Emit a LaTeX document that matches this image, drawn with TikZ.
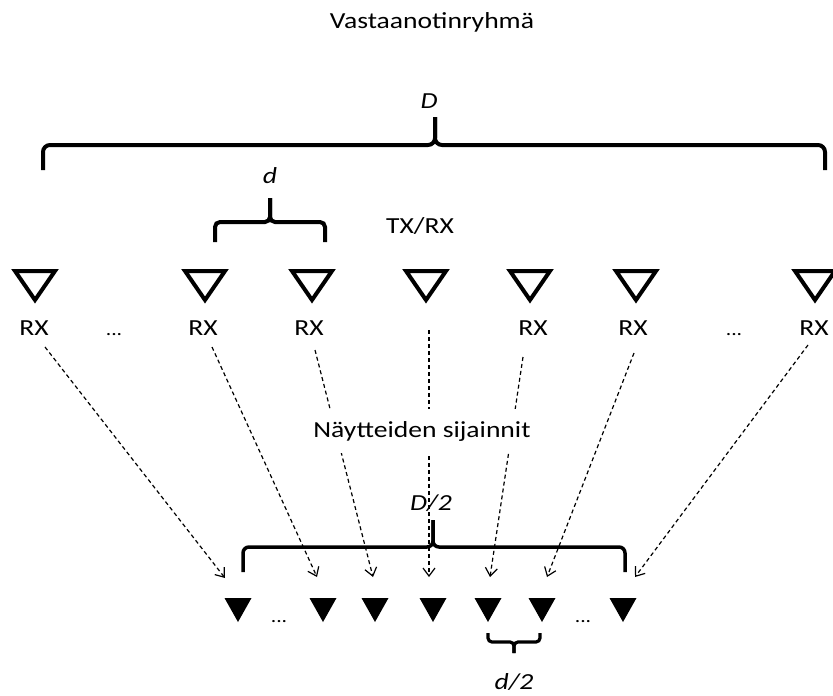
\documentclass[tikz,border=0pt]{standalone}
\usepackage{fontspec}
\setmainfont{Carlito}[FakeStretch=1.2]
\usetikzlibrary{arrows.meta}
\tikzset{
  lbl/.style={font=\fontsize{23}{27}\selectfont, inner sep=0pt, anchor=base},
  dotlbl/.style={font=\fontsize{18}{22}\selectfont, inner sep=0pt, anchor=base},
  mathlbl/.style={font=\fontsize{23}{27}\selectfont\itshape, inner sep=0pt, anchor=base},
  bigbrace/.style={line width=4pt, rounded corners=7pt, line cap=butt},
  smallbrace/.style={line width=3.2pt, rounded corners=4pt, line cap=butt},
  dasharrow/.style={line width=1.2pt, dash pattern=on 4pt off 3pt, -{Straight Barb[length=8pt,width=12pt,line width=1.2pt]}},
  rxant/.pic={\draw[line width=4pt, line join=miter] (-20,-13) -- (20,-13) -- (0,16) -- cycle;},
  sampmark/.pic={\fill (-13.5,-12) -- (13.5,-12) -- (0,12) -- cycle;}
}
\begin{document}
\begin{tikzpicture}[x=1pt,y=-1pt]
\useasboundingbox (0,0) rectangle (833,696);

% title
\node[lbl] (title) at (432,28) {Vastaanotinryhmä};

% big brace D
\draw[bigbrace] (43,170) -- (43,145) -- (435,145) -- (435,117);
\draw[bigbrace] (825,170) -- (825,145) -- (435,145) -- (435,117);
\node[mathlbl] (Dlab) at (429,108) {D};

% small brace d
\draw[bigbrace, rounded corners=5pt] (215,242) -- (215,222) -- (270,222) -- (270,198);
\draw[bigbrace, rounded corners=5pt] (325,242) -- (325,222) -- (270,222) -- (270,198);
\node[mathlbl] (dlab) at (270,183) {d};

\node[lbl] (txrx) at (420,233) {TX/RX};

% antennas
\foreach \n/\x in {1/35,2/205,3/312,4/426,5/530,6/636,7/815}{
  \pic at (\x,284) {rxant};
}
\node[lbl] (rx1) at (34,335) {RX};
\node[lbl] (rx2) at (203,335) {RX};
\node[lbl] (rx3) at (309,335) {RX};
\node[lbl] (rx5) at (533,335) {RX};
\node[lbl] (rx6) at (633,335) {RX};
\node[lbl] (rx7) at (814,335) {RX};
\node[dotlbl] (dots1) at (114,335) {...};
\node[dotlbl] (dots2) at (734,335) {...};

% arrow coordinates
\coordinate (s1) at (45,347);  \coordinate (e1) at (225,578);
\coordinate (s2) at (212,347); \coordinate (e2) at (317,577);
\coordinate (s3) at (315,350); \coordinate (e3) at (373,577);
\coordinate (s4) at (429,330); \coordinate (e4) at (429,577);
\coordinate (s5) at (523,357); \coordinate (e5) at (490,577);
\coordinate (s6) at (634,353); \coordinate (e6) at (547,577);
\coordinate (s7) at (808,345); \coordinate (e7) at (635,577);
\foreach \i in {1,...,7}{
  \draw[dasharrow] (s\i) -- (e\i);
}

\node[lbl, fill=white, inner xsep=6pt, inner ysep=12pt] (samp) at (422,437) {Näytteiden sijainnit};

% D/2 brace
\draw[smallbrace, line width=3.5pt, rounded corners=6pt] (243,572) -- (243,547) -- (433,547) -- (433,520);
\draw[smallbrace, line width=3.5pt, rounded corners=6pt] (625,572) -- (625,547) -- (433,547) -- (433,520);
\node[mathlbl] (D2lab) at (431,510) {D/2};

% sample markers
\foreach \x in {238,323,375,433,488,542,623}{
  \pic at (\x,610) {sampmark};
}
\node[dotlbl] (dots3) at (279,622) {...};
\node[dotlbl] (dots4) at (583,622) {...};

% d/2 brace
\draw[smallbrace, rounded corners=4pt] (488,633) -- (488,642) -- (514,642) -- (514,653);
\draw[smallbrace, rounded corners=4pt] (540,633) -- (540,642) -- (514,642) -- (514,653);
\node[mathlbl] (d2lab) at (514,689) {d/2};
\end{tikzpicture}
\end{document}
